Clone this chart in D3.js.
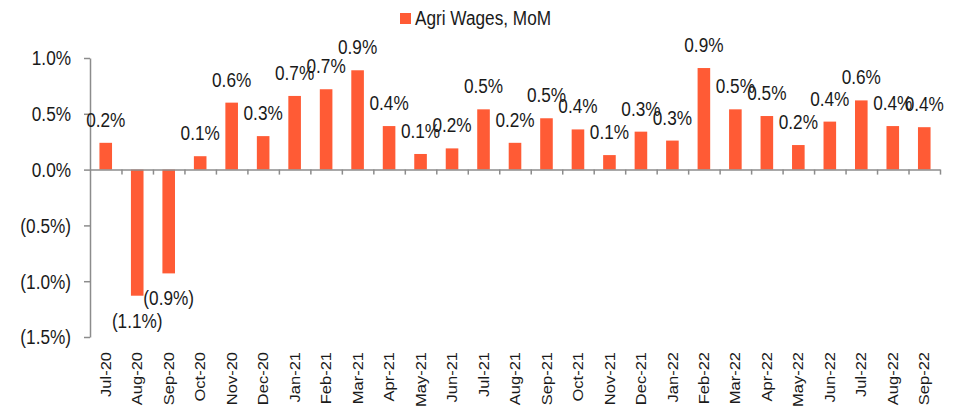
<!DOCTYPE html>
<html>
<head>
<meta charset="utf-8">
<script src="https://cdn.jsdelivr.net/npm/d3@7"></script>
<style>
    body { margin: 0; background: #fff; }
    svg text { font-family: "Liberation Sans", Arial, sans-serif; fill: #1a1a1a; }
</style>
</head>
<body>
<svg id="chart" width="955" height="407"></svg>
<script>
    var months = ["Jul-20", "Aug-20", "Sep-20", "Oct-20", "Nov-20", "Dec-20", "Jan-21", "Feb-21", "Mar-21",
        "Apr-21", "May-21", "Jun-21", "Jul-21", "Aug-21", "Sep-21", "Oct-21", "Nov-21", "Dec-21",
        "Jan-22", "Feb-22", "Mar-22", "Apr-22", "May-22", "Jun-22", "Jul-22", "Aug-22", "Sep-22"];
    var wagesMoM = [0.24, -1.13, -0.93, 0.12, 0.60, 0.30, 0.66, 0.72, 0.89,
        0.39, 0.14, 0.19, 0.54, 0.24, 0.46, 0.36, 0.13, 0.34,
        0.26, 0.91, 0.54, 0.48, 0.22, 0.43, 0.62, 0.39, 0.38];
    var yTicks = [-1.5, -1.0, -0.5, 0, 0.5, 1.0];
    var seriesName = "Agri Wages, MoM";

    (function () {
        var barColor = "#ff5b35";
        var axisColor = "#8c8c8c";
        var squeeze = 0.86;     //  text in the original is narrower than it is tall

        var svg = d3.select("#chart");
        var plotLeft = 90, plotRight = 940, plotTop = 58, plotBottom = 337;

        var pct = function (v) {
            var s = Math.abs(v).toFixed(1) + "%";
            return v < 0 ? "(" + s + ")" : s;
        };
        var condense = function (sel) {
            sel.each(function () {
                var len = this.getComputedTextLength();
                d3.select(this).attr("textLength", len * squeeze).attr("lengthAdjust", "spacingAndGlyphs");
            });
        };

        var x = d3.scaleBand().domain(months).range([plotLeft, plotRight]).padding(0);
        var step = x.step();
        var barW = step * 0.4;
        var y = d3.scaleLinear().domain([-1.5, 1.0]).range([plotBottom, plotTop]);
        var edges = d3.scaleLinear().domain([0, months.length]).range([plotLeft, plotRight]);

        //  Y axis  ---
        var yAxis = svg.append("g")
            .attr("transform", "translate(" + plotLeft + ",0)")
            .call(d3.axisLeft(y).tickValues(yTicks).tickFormat(pct).tickSize(6).tickSizeOuter(0).tickPadding(13));
        yAxis.select(".domain").attr("stroke", axisColor).attr("stroke-width", 1.5);
        yAxis.selectAll(".tick line").attr("stroke", axisColor).attr("stroke-width", 1.5);
        yAxis.selectAll(".tick text")
            .style("font-size", "20px")
            .attr("fill", "#1a1a1a")
            .attr("dy", "0.34em")
            .call(condense);

        //  Bars  ---
        svg.append("g").selectAll("rect")
            .data(wagesMoM)
            .enter().append("rect")
            .attr("x", function (d, i) { return x(months[i]) + (step - barW) / 2; })
            .attr("width", barW)
            .attr("y", function (d) { return y(Math.max(0, d)); })
            .attr("height", function (d) { return Math.abs(y(d) - y(0)); })
            .attr("fill", barColor);

        //  Zero axis with category boundary ticks  ---
        var xAxis = svg.append("g")
            .attr("transform", "translate(0," + y(0) + ")")
            .call(d3.axisBottom(edges).tickValues(d3.range(1, months.length + 1)).tickFormat("").tickSize(5).tickSizeOuter(0));
        xAxis.select(".domain").attr("stroke", axisColor).attr("stroke-width", 1.5);
        xAxis.selectAll(".tick line").attr("stroke", axisColor).attr("stroke-width", 1.5);

        //  Category labels  ---
        var catAxis = svg.append("g")
            .attr("transform", "translate(0," + plotBottom + ")")
            .call(d3.axisBottom(x).tickSize(0));
        catAxis.select(".domain").remove();
        catAxis.selectAll(".tick text")
            .style("font-size", "16.5px")
            .attr("fill", "#1a1a1a")
            .attr("text-anchor", "end")
            .attr("transform", "rotate(-90) scale(1," + squeeze + ")")
            .attr("x", -15)
            .attr("y", 0)
            .attr("dy", "0.36em");

        //  Data labels  ---
        svg.append("g").selectAll("text")
            .data(wagesMoM)
            .enter().append("text")
            .attr("x", function (d, i) { return x(months[i]) + step / 2; })
            .attr("y", function (d) { return d >= 0 ? y(d) - 16 : y(d) + 32; })
            .attr("text-anchor", "middle")
            .style("font-size", "20px")
            .text(pct)
            .call(condense);

        //  Legend  ---
        var legend = svg.append("g").attr("transform", "translate(400,13)");
        legend.append("rect").attr("width", 11).attr("height", 11).attr("fill", barColor);
        legend.append("text").attr("x", 15).attr("y", 11.5).style("font-size", "20px").text(seriesName).call(condense);
    })();
</script>
</body>
</html>
